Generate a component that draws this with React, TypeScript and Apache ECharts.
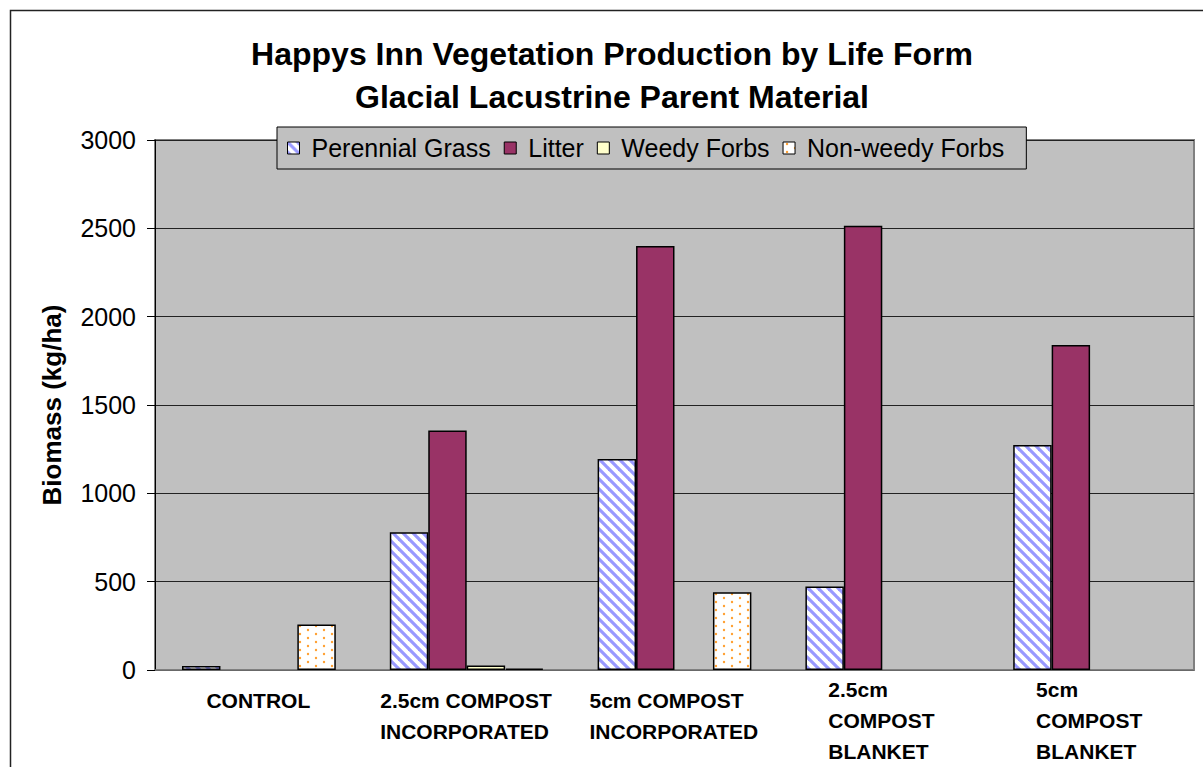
import React, { useEffect, useRef } from 'react';
import * as echarts from 'echarts';

const categories = [
  'CONTROL',
  '2.5cm COMPOST\nINCORPORATED',
  '5cm COMPOST\nINCORPORATED',
  '2.5cm\nCOMPOST\nBLANKET',
  '5cm\nCOMPOST\nBLANKET',
];
const seriesNames = ['Perennial Grass', 'Litter', 'Weedy Forbs', 'Non-weedy Forbs'];
const perennialGrass = [22, 780, 1195, 472, 1273];
const litter = [0, 1355, 2400, 2515, 1840];
const weedyForbs = [0, 25, 0, 0, 0];
const nonWeedyForbs = [258, 8, 440, 0, 0];
const yTicks = [0, 500, 1000, 1500, 2000, 2500, 3000];
const titleLines = ['Happys Inn Vegetation Production by Life Form', 'Glacial Lacustrine Parent Material'];
const yAxisName = 'Biomass (kg/ha)';

const FONT = '"Liberation Sans", Arial, sans-serif';
const XFS = 21;

function stripeCanvas() {
  const P = 10;
  const c = document.createElement('canvas');
  c.width = P;
  c.height = P;
  const ctx = c.getContext('2d')!;
  ctx.fillStyle = '#ffffff';
  ctx.fillRect(0, 0, P, P);
  ctx.strokeStyle = '#9999FF';
  ctx.lineWidth = 3.2;
  for (const k of [-P, 0, P]) {
    ctx.beginPath();
    ctx.moveTo(k - 2, -2);
    ctx.lineTo(k + P + 2, P + 2);
    ctx.stroke();
  }
  return c;
}

function dotCanvas() {
  const c = document.createElement('canvas');
  c.width = 16;
  c.height = 8;
  const ctx = c.getContext('2d')!;
  ctx.fillStyle = '#ffffff';
  ctx.fillRect(0, 0, 16, 8);
  ctx.fillStyle = '#FFA033';
  for (const [x, y] of [[4, 2], [12, 6]]) {
    ctx.beginPath();
    ctx.arc(x, y, 1.2, 0, Math.PI * 2);
    ctx.fill();
  }
  return c;
}

function measure(text: string) {
  const ctx = document.createElement('canvas').getContext('2d')!;
  ctx.font = `bold ${XFS}px ${FONT}`;
  return ctx.measureText(text).width;
}

export default function App() {
  const ref = useRef<HTMLDivElement>(null);
  useEffect(() => {
    if (!ref.current) return;
    const chart = echarts.init(ref.current, undefined, { renderer: 'svg' });
    const rich: Record<string, any> = {};
    categories.forEach((c, i) => {
      const w = Math.max(...c.split('\n').map(measure));
      rich['c' + i] = {
        width: Math.ceil(w) + 1,
        align: 'left',
        fontSize: XFS,
        fontWeight: 'bold',
        fontFamily: FONT,
        lineHeight: 31,
        color: '#000',
      };
    });
    const colors = [
      { image: stripeCanvas(), repeat: 'repeat' },
      '#993366',
      '#FFFFCC',
      { image: dotCanvas(), repeat: 'repeat' },
    ];
    const values = [perennialGrass, litter, weedyForbs, nonWeedyForbs];
    chart.setOption({
      animation: false,
      backgroundColor: '#ffffff',
      title: {
        text: titleLines.join('\n'),
        left: 'center',
        top: 24,
        padding: 0,
        textStyle: { fontSize: 32, fontWeight: 'bold', lineHeight: 43, color: '#000', fontFamily: FONT },
      },
      legend: {
        data: seriesNames,
        left: 269,
        top: 119,
        padding: [6, 22, 6, 10],
        backgroundColor: '#C0C0C0',
        borderColor: '#000',
        borderWidth: 1,
        icon: 'rect',
        itemWidth: 12,
        itemHeight: 12,
        itemGap: 13,
        itemStyle: { borderColor: '#000', borderWidth: 1 },
        textStyle: { fontSize: 25, color: '#000', fontFamily: FONT, lineHeight: 30, padding: [0, 0, 0, 7] },
      },
      grid: {
        left: 147,
        top: 132,
        width: 1039,
        height: 530,
        show: true,
        backgroundColor: '#C0C0C0',
        borderColor: '#808080',
        borderWidth: 2,
      },
      xAxis: {
        type: 'category',
        data: categories.map((c) => ({
          value: c,
          textStyle: { padding: [c.split('\n').length < 3 ? 11 : 0, 0, 0, 0] },
        })),
        axisLine: { lineStyle: { color: '#808080', width: 1.5 } },
        axisTick: { show: false },
        axisLabel: {
          interval: 0,
          margin: 3.5,
          fontSize: XFS,
          fontWeight: 'bold',
          fontFamily: FONT,
          color: '#000',
          lineHeight: 31,
          formatter: (value: string, index: number) =>
            value.split('\n').map((l) => `{c${index}|${l}}`).join('\n'),
          rich,
        },
      },
      yAxis: {
        type: 'value',
        min: yTicks[0],
        max: yTicks[yTicks.length - 1],
        interval: yTicks[1] - yTicks[0],
        name: yAxisName,
        nameLocation: 'middle',
        nameRotate: 90,
        nameGap: 90,
        nameTextStyle: { fontSize: 26, fontWeight: 'bold', color: '#000', fontFamily: FONT },
        axisLine: { show: true, lineStyle: { color: '#000', width: 1 } },
        axisTick: { show: true, length: 8, lineStyle: { color: '#000' } },
        axisLabel: {
          fontSize: 25,
          color: '#000',
          margin: 19,
          fontFamily: FONT,
          formatter: (v: number) => String(v),
        },
        splitLine: { show: true, lineStyle: { color: '#222', width: 1 } },
      },
      series: seriesNames.map((name, i) => ({
        name,
        type: 'bar',
        barGap: '0%',
        barCategoryGap: '26%',
        itemStyle: { color: colors[i], borderColor: '#000', borderWidth: 1.5 },
        data: values[i].map((v) => (v === 0 ? null : v)),
      })),
      graphic: [
        {
          type: 'rect',
          left: 0,
          top: 0,
          shape: { x: 0, y: 0, width: 1207, height: 799 },
          style: { fill: 'none', stroke: '#222', lineWidth: 1.5 },
          silent: true,
        },
      ],
    });
    return () => chart.dispose();
  }, []);
  return (
    <div
      ref={ref}
      style={{ position: 'fixed', left: 8, top: 8, width: 1208, height: 800, background: '#fff' }}
    />
  );
}
